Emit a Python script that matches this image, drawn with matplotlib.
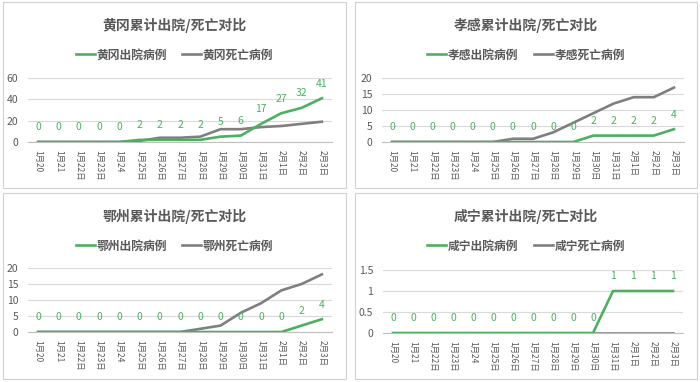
import matplotlib
matplotlib.use('Agg')
import matplotlib.pyplot as plt
from matplotlib.patches import Rectangle

plt.rcParams['font.family'] = ['Noto Sans CJK SC', 'DejaVu Sans']

# 日期
dates = ['1月20', '1月21', '1月22日', '1月23日', '1月24', '1月25日', '1月26日', '1月27日',
         '1月28日', '1月29日', '1月30日', '1月31日', '2月1日', '2月2日', '2月3日']

# 累计出院 / 死亡
hg_out = [0, 0, 0, 0, 0, 2, 2, 2, 2, 5, 6, 17, 27, 32, 41]
hg_dead = [0, 0, 0, 0, 0, 1, 4, 4, 5, 12, 12, 14, 15, 17, 19]
xg_out = [0, 0, 0, 0, 0, 0, 0, 0, 0, 0, 2, 2, 2, 2, 4]
xg_dead = [0, 0, 0, 0, 0, 0, 1, 1, 3, 6, 9, 12, 14, 14, 17]
ez_out = [0, 0, 0, 0, 0, 0, 0, 0, 0, 0, 0, 0, 0, 2, 4]
ez_dead = [0, 0, 0, 0, 0, 0, 0, 0, 1, 2, 6, 9, 13, 15, 18]
xn_out = [0, 0, 0, 0, 0, 0, 0, 0, 0, 0, 0, 1, 1, 1, 1]
xn_dead = [0, 0, 0, 0, 0, 0, 0, 0, 0, 0, 0, 0, 0, 0, 0]

cities = ['黄冈', '孝感', '鄂州', '咸宁']
outs = [hg_out, xg_out, ez_out, xn_out]
deads = [hg_dead, xg_dead, ez_dead, xn_dead]
yticks = [[0, 20, 40, 60], [0, 5, 10, 15, 20], [0, 5, 10, 15, 20], [0, 0.5, 1, 1.5]]
ytick_labels = [['0', '20', '40', '60'], ['0', '5', '10', '15', '20'],
                ['0', '5', '10', '15', '20'], ['0', '0.5', '1', '1.5']]

GREEN = '#4DAF62'
GREY = '#7F7F7F'
TEXT = '#595959'

W, H = 700, 382
fig = plt.figure(figsize=(7, 3.82), dpi=100)
fig.patch.set_facecolor('white')

# 每个面板的位置（像素, 左上角原点）: 框, 绘图区
boxes = [(3, 2, 343, 186), (355, 2, 342, 186), (3, 193, 343, 186), (355, 193, 342, 186)]
plot_areas = [(28, 78, 304, 64), (382, 78, 302, 64), (28, 268, 304, 64), (383, 270, 300, 63)]


def px(x, y, w, h):
    return [x / W, 1 - (y + h) / H, w / W, h / H]


for i, city in enumerate(cities):
    bx, by, bw, bh = boxes[i]
    fig.patches.append(Rectangle((bx / W, 1 - (by + bh) / H), bw / W, bh / H,
                                 transform=fig.transFigure, fill=False,
                                 edgecolor='#D0D0D0', linewidth=0.8))

    ax = fig.add_axes(px(*plot_areas[i]))
    x = range(len(dates))
    ax.plot(x, outs[i], color=GREEN, lw=1.9, label=city + '出院病例', zorder=3)
    ax.plot(x, deads[i], color=GREY, lw=1.9, label=city + '死亡病例', zorder=2)
    for xi, v in zip(x, outs[i]):
        ax.annotate(str(v), (xi, v), xytext=(0, 10.5), textcoords='offset points',
                    ha='center', va='center', fontsize=7.5, color=GREEN)

    ax.set_xlim(-0.5, len(dates) - 0.5)
    ax.set_ylim(yticks[i][0], yticks[i][-1])
    ax.set_yticks(yticks[i])
    ax.set_yticklabels(ytick_labels[i])
    ax.set_xticks(list(x))
    ax.set_xticklabels(dates, rotation=-90)
    ax.tick_params(axis='x', length=0, labelsize=6, labelcolor=TEXT, pad=6)
    ax.tick_params(axis='y', length=0, labelsize=7.5, labelcolor=TEXT, pad=7)
    ax.grid(axis='y', color='#D9D9D9', lw=0.8)
    ax.set_axisbelow(True)
    for s in ['top', 'right', 'left']:
        ax.spines[s].set_visible(False)
    ax.spines['bottom'].set_color('#BFBFBF')
    ax.spines['bottom'].set_linewidth(0.8)
    ax.set_facecolor('none')

    cx = (bx + bw / 2) / W
    fig.text(cx, 1 - (by + 23) / H, city + '累计出院/死亡对比', ha='center', va='center',
             fontsize=10, fontweight='bold', color=TEXT)
    ax.legend(loc='center', bbox_to_anchor=(cx, 1 - (by + 53) / H),
              bbox_transform=fig.transFigure, ncol=2, frameon=False,
              handlelength=1.6, handletextpad=0.15, columnspacing=1.3,
              prop={'size': 8.5, 'weight': 'bold'}, labelcolor=TEXT)

fig.savefig('out.png', dpi=100, facecolor='white')
